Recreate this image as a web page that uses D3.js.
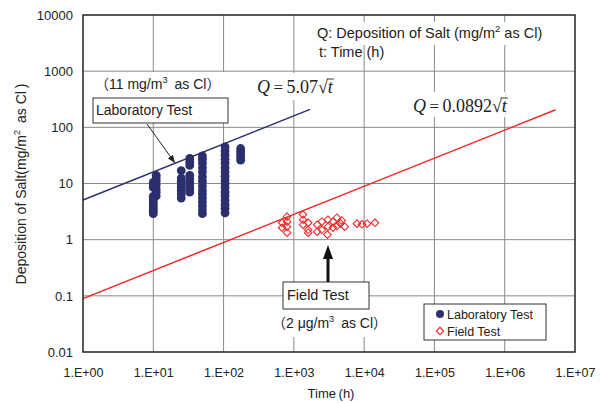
<!DOCTYPE html>
<html><head><meta charset="utf-8">
<script src="https://cdn.jsdelivr.net/npm/d3@7"></script>
<style>
body{margin:0;background:#fff;}
svg{display:block;}
text{font-family:"Liberation Sans","Noto Sans CJK JP",Arial,sans-serif;fill:#222;}
.eq{font-family:"Liberation Serif","Times New Roman",serif;}
</style></head>
<body>
<svg id="c" width="606" height="403"></svg>
<script>
// ---- data ----
const xTicks = [1,10,100,1e3,1e4,1e5,1e6,1e7];
const xTickLabels = ["1.E+00","1.E+01","1.E+02","1.E+03","1.E+04","1.E+05","1.E+06","1.E+07"];
const yTicks = [0.01,0.1,1,10,100,1000,10000];
const yTickLabels = ["0.01","0.1","1","10","100","1000","10000"];

const labT = [10,10,10,10,10,10,10,10,10,10,10,
  11,11,11,11,11,11,11,
  25,25,25,25,25,25,25,25,
  33,33,33,33,33,33,33,33,33,
  50,50,50,50,50,50,50,50,50,50,50,50,50,50,50,
  105,105,105,105,105,105,105,105,105,105,105,105,105,105,105,105,105,
  175,175,175,175,175];
const labQ = [2.9,3.2,3.5,3.9,4.3,4.8,5.3,5.9,8.5,9.5,10.5,
  6,7,8,9.5,11,12.5,14,
  17,12.5,11,9.5,8.5,7.5,6.5,5.5,
  28,24,21,14,12,10.5,9,8,7,
  31,27,23,19,16,13,11,9,7.5,6.5,5.5,4.7,4,3.4,2.9,
  45,38,32,27,23,19,16,13.5,11.5,10,8.5,7,6,5,4.2,3.6,3.0,
  42,37,33,29,26];

const fieldT = [680,680,800,800,800,800,
  1350,1350,1350,1600,1600,1600,
  2150,2150,2500,2500,3050,3050,3000,3600,3600,
  4100,4100,4800,5300,4600,
  7900,9300,11000,14250];
const fieldQ = [1.63,2.0,2.57,2.09,1.7,1.33,
  2.8,2.27,1.85,1.5,1.33,2.0,
  1.85,1.39,2.09,1.5,2.27,1.7,1.23,2.09,1.63,
  2.46,1.75,2.2,1.7,1.95,
  1.93,1.88,1.93,2.0];

const labCoef = 5.07, fieldCoef = 0.0892;
const labLineT = [1, 1700];
const fieldLineT = [1, 5.3e6];

// ---- chart ----
const svg = d3.select("#c");
const L=83, R=575, T=15, B=352;
const x = d3.scaleLog().domain([1,1e7]).range([L,R]);
const y = d3.scaleLog().domain([0.01,10000]).range([B,T]);
const navy="#2c2f6e", red="#ee2b2b";

// grid
const g = svg.append("g");
g.selectAll(".vx").data(xTicks.slice(1,-1)).join("line")
  .attr("x1",d=>x(d)).attr("x2",d=>x(d)).attr("y1",T).attr("y2",B)
  .attr("stroke","#8a8a8a").attr("stroke-width",1);
g.selectAll(".hy").data(yTicks.slice(1,-1)).join("line")
  .attr("y1",d=>y(d)).attr("y2",d=>y(d)).attr("x1",L).attr("x2",R)
  .attr("stroke","#8a8a8a").attr("stroke-width",1);

// white text backgrounds
const bgs = [[93,72,140,26],[255,73,81,27],[300,22,256,23],[410,92,95,25],[270,309,110,28]];
svg.selectAll(".bg").data(bgs).join("rect")
  .attr("x",d=>d[0]).attr("y",d=>d[1]).attr("width",d=>d[2]).attr("height",d=>d[3]).attr("fill","#fff");

// axes (labels only)
const xa = svg.append("g").attr("transform",`translate(0,${B})`)
  .call(d3.axisBottom(x).tickValues(xTicks).tickFormat((d,i)=>xTickLabels[i]).tickSize(0).tickPadding(16));
xa.select(".domain").remove();
xa.selectAll("text").attr("font-size","12.5px").attr("fill","#222")
  .style("font-family","'Liberation Sans',Arial,sans-serif");
const ya = svg.append("g").attr("transform",`translate(${L},0)`)
  .call(d3.axisLeft(y).tickValues(yTicks).tickFormat((d,i)=>yTickLabels[i]).tickSize(0).tickPadding(10));
ya.select(".domain").remove();
ya.selectAll("text").attr("font-size","13px").attr("fill","#222")
  .style("font-family","'Liberation Sans',Arial,sans-serif");

// regression lines
const line = d3.line().x(d=>x(d[0])).y(d=>y(d[1]));
svg.append("path").datum(labLineT.map(t=>[t,labCoef*Math.sqrt(t)]))
  .attr("d",line).attr("stroke",navy).attr("stroke-width",1.5).attr("fill","none");
svg.append("path").datum(fieldLineT.map(t=>[t,fieldCoef*Math.sqrt(t)]))
  .attr("d",line).attr("stroke",red).attr("stroke-width",1.5).attr("fill","none");

// lab points
svg.selectAll(".lab").data(labT.map((t,i)=>[t,labQ[i]])).join("circle")
  .attr("cx",d=>x(d[0])).attr("cy",d=>y(d[1])).attr("r",4.4).attr("fill",navy);

// field points
const dia = d3.symbol().type(d3.symbolDiamond2).size(36);
svg.selectAll(".fld").data(fieldT.map((t,i)=>[t,fieldQ[i]])).join("path")
  .attr("d",dia).attr("transform",d=>`translate(${x(d[0])},${y(d[1])})`)
  .attr("fill","none").attr("stroke",red).attr("stroke-width",1.1);

// border
svg.append("rect").attr("x",L).attr("y",T).attr("width",R-L).attr("height",B-T)
  .attr("fill","none").attr("stroke","#222").attr("stroke-width",1.5);

// annotations
function sup(t, fs, main, s, rest){
  t.attr("font-size",fs+"px");
  t.append("tspan").text(main);
  t.append("tspan").text(s).attr("font-size",(fs*0.65)+"px").attr("dy",(-fs*0.42)+"px");
  t.append("tspan").text(rest).attr("dy",(fs*0.42)+"px");
}
let t1 = svg.append("text").attr("x",95).attr("y",89);
sup(t1,14,"（11 mg/m","3","\u2002as Cl）");
svg.append("rect").attr("x",93).attr("y",98).attr("width",135).attr("height",25)
  .attr("fill","#fff").attr("stroke","#333").attr("stroke-width",1);
svg.append("text").attr("x",96).attr("y",115).attr("font-size","14px").text("Laboratory Test");

svg.append("rect").attr("x",283).attr("y",282).attr("width",86).attr("height",27)
  .attr("fill","#fff").attr("stroke","#333").attr("stroke-width",1);
svg.append("text").attr("x",287).attr("y",300).attr("font-size","14.5px").text("Field Test");
let t2 = svg.append("text").attr("x",272).attr("y",328);
sup(t2,14,"（2 μg/m","3","\u2002as Cl）");

let t3 = svg.append("text").attr("x",317).attr("y",38);
sup(t3,14.5,"Q: Deposition of Salt (mg/m","2"," as Cl)");
svg.append("text").attr("x",319).attr("y",57).attr("font-size","14.5px").text("t: Time (h)");

// equations
function eq(x0,y0,num){
  const t = svg.append("text").attr("class","eq").attr("x",x0).attr("y",y0).attr("font-size","18px");
  t.append("tspan").text("Q").attr("font-style","italic");
  t.append("tspan").text("\u2009=\u2009").attr("font-size","17px");
  t.append("tspan").text(num);
  t.append("tspan").text("√");
  t.append("tspan").text("t").attr("font-style","italic");
  const n = t.text().length-1;
  const ex = t.node().getEndPositionOfChar(n).x;
  const sx = t.node().getStartPositionOfChar(n).x;
  svg.append("line").attr("x1",sx-1).attr("x2",ex+1).attr("y1",y0-14).attr("y2",y0-14)
    .attr("stroke","#222").attr("stroke-width",0.9);
}
eq(257,93,"5.07");
eq(413,112,"0.0892");

// arrows
svg.append("defs").append("marker").attr("id","ah").attr("viewBox","0 0 10 10")
  .attr("refX",10).attr("refY",5).attr("markerWidth",8).attr("markerHeight",8).attr("orient","auto")
  .attr("markerUnits","userSpaceOnUse")
  .append("path").attr("d","M0,1 L10,5 L0,9 Z").attr("fill","#222");
svg.append("line").attr("x1",147).attr("y1",124).attr("x2",175).attr("y2",163)
  .attr("stroke","#222").attr("stroke-width",1).attr("marker-end","url(#ah)");
svg.append("line").attr("x1",328).attr("y1",282).attr("x2",328).attr("y2",256)
  .attr("stroke","#111").attr("stroke-width",3);
svg.append("path").attr("d","M323,259 L328,245 L333,259 Z").attr("fill","#111");

// legend
svg.append("rect").attr("x",424).attr("y",304).attr("width",122).attr("height",36)
  .attr("fill","#fff").attr("stroke","#333").attr("stroke-width",1);
svg.append("circle").attr("cx",440).attr("cy",314).attr("r",4).attr("fill",navy);
svg.append("path").attr("d",dia).attr("transform","translate(440,331)")
  .attr("fill","none").attr("stroke",red).attr("stroke-width",1.1);
svg.append("text").attr("x",447).attr("y",318.5).attr("font-size","12.5px").text("Laboratory Test");
svg.append("text").attr("x",447).attr("y",335.5).attr("font-size","12.5px").text("Field Test");

// axis titles
svg.append("text").attr("x",331).attr("y",398).attr("text-anchor","middle").attr("font-size","13px").text("Time\u2009(h)");
let yt = svg.append("text").attr("transform","translate(26,184) rotate(-90)").attr("text-anchor","middle");
sup(yt,14,"Deposition of Salt(mg/m","2","\u2002as Cl\u2009)");
</script>
</body></html>
